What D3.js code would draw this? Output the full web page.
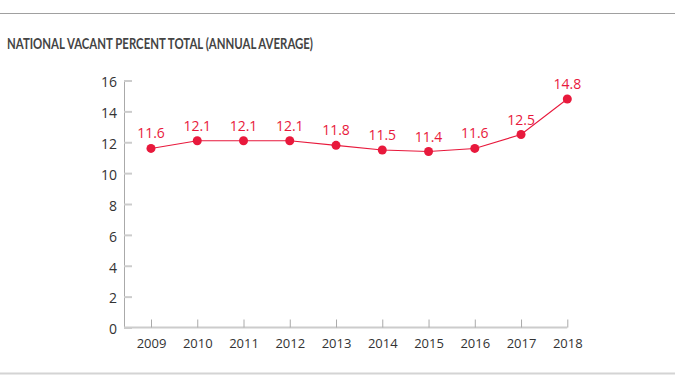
<!DOCTYPE html>
<html>
<head>
<meta charset="utf-8">
<script src="https://cdn.jsdelivr.net/npm/d3@7"></script>
<style>
  body { margin: 0; background: #fff; }
  svg { display: block; }
</style>
</head>
<body>
<div id="chart"></div>
<script>
// Chart data
const years = ['2009', '2010', '2011', '2012', '2013', '2014', '2015', '2016', '2017', '2018'];
const vacantPct = [11.6, 12.1, 12.1, 12.1, 11.8, 11.5, 11.4, 11.6, 12.5, 14.8];
const yTicks = [0, 2, 4, 6, 8, 10, 12, 14, 16];

const W = 675;
const H = 387;
const margin = { top: 80.5, right: 108, bottom: 60, left: 124 };

const red = '#e8193c';

const svg = d3.select('#chart')
  .append('svg')
  .attr('width', W)
  .attr('height', H);

// frame rules
svg.append('line')
  .attr('x1', 0).attr('x2', W)
  .attr('y1', 13.5).attr('y2', 13.5)
  .attr('stroke', '#a0a0a0')
  .attr('stroke-width', 1);
svg.append('line')
  .attr('x1', 0).attr('x2', W)
  .attr('y1', 373.5).attr('y2', 373.5)
  .attr('stroke', '#d4d4d4')
  .attr('stroke-width', 2);

// title
svg.append('text')
  .attr('x', 7)
  .attr('y', 49)
  .attr('font-family', 'Lato, "Open Sans", sans-serif')
  .attr('font-weight', 700)
  .attr('font-size', 15.5)
  .attr('fill', '#444')
  .attr('textLength', 306)
  .attr('lengthAdjust', 'spacingAndGlyphs')
  .text('NATIONAL VACANT PERCENT TOTAL (ANNUAL AVERAGE)');

// scales
const x = d3.scalePoint()
  .domain(years)
  .range([151, 567.3]);

const y = d3.scaleLinear()
  .domain([0, 16])
  .range([327.5, margin.top]);

// y-axis
const yAxis = svg.append('g')
  .attr('transform', `translate(${margin.left},0)`)
  .call(d3.axisRight(y).tickValues(yTicks).tickSize(8).tickFormat(d3.format('d')));
yAxis.select('.domain').attr('stroke', '#aaa').attr('d', `M0.5,${y(16)}V${y(0)}`);
yAxis.selectAll('.tick line').attr('stroke', '#ccc').attr('stroke-width', 2);
yAxis.selectAll('.tick text')
  .attr('x', -7)
  .attr('dy', '0.45em')
  .attr('text-anchor', 'end')
  .attr('font-family', '"Open Sans", sans-serif')
  .attr('font-size', 14)
  .attr('fill', '#333');

// x-axis
const xAxis = svg.append('g')
  .attr('transform', `translate(0,${y(0)})`)
  .call(d3.axisTop(x).tickSize(8).tickSizeOuter(0));
xAxis.select('.domain')
  .attr('stroke', '#ccc')
  .attr('stroke-width', 2)
  .attr('d', `M${margin.left},0H${x('2018')}`);
xAxis.selectAll('.tick line').attr('stroke', '#aaa');
xAxis.selectAll('.tick text')
  .attr('y', 20)
  .attr('dy', 0)
  .attr('font-family', '"Open Sans", sans-serif')
  .attr('font-size', 13)
  .attr('fill', '#333');

// line
const points = years.map((yr, i) => ({ year: yr, value: vacantPct[i] }));
svg.append('path')
  .datum(points)
  .attr('fill', 'none')
  .attr('stroke', red)
  .attr('stroke-width', 1.1)
  .attr('d', d3.line()
    .x((d) => x(d.year))
    .y((d) => y(d.value)));

// dots
svg.selectAll('circle.dot')
  .data(points)
  .join('circle')
  .attr('class', 'dot')
  .attr('cx', (d) => x(d.year))
  .attr('cy', (d) => y(d.value))
  .attr('r', 4.5)
  .attr('fill', red);

// value labels
svg.selectAll('text.val')
  .data(points)
  .join('text')
  .attr('class', 'val')
  .attr('x', (d) => x(d.year))
  .attr('y', (d) => y(d.value) - 10)
  .attr('text-anchor', 'middle')
  .attr('font-family', '"Open Sans", sans-serif')
  .attr('font-size', 14)
  .attr('fill', red)
  .text((d) => d3.format('.1f')(d.value));
</script>
</body>
</html>
